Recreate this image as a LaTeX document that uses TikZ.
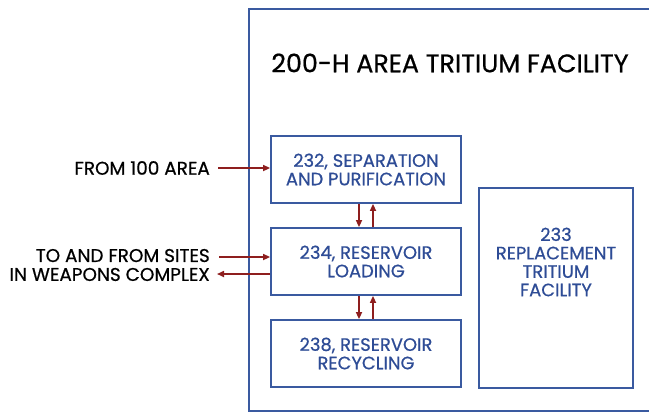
\documentclass[tikz,border=0pt]{standalone}
\usepackage{fontspec}
\setmainfont{Poppins}[FakeBold=0.6]
\usetikzlibrary{arrows.meta}
\definecolor{boxblue}{HTML}{3A5AA0}
\definecolor{txtblue}{HTML}{2E4C96}
\definecolor{arrred}{HTML}{8E1E1E}
\begin{document}
\begin{tikzpicture}[x=1bp,y=-1bp,
  bldg/.style={draw=boxblue,line width=1.8bp,text=txtblue,align=center,font=\fontsize{18}{18.5}\selectfont,inner sep=0pt},
  flow/.style={draw=arrred,line width=1.6bp,-{Triangle[length=7bp,width=6bp]}},
  lbl/.style={align=right,anchor=east,font=\fontsize{18.5}{19}\selectfont,inner sep=0pt}]
\useasboundingbox (0,0) rectangle (649,413);
\clip (0,0) rectangle (649,413);
\fill[white] (0,0) rectangle (649,413);
\draw[boxblue,line width=1.8bp] (249,9) rectangle (660,411);
\node[font=\fontsize{25.5}{28}\selectfont,anchor=center,inner sep=0pt] (title) at (450,63) {200-H AREA TRITIUM FACILITY};
\node[bldg,minimum width=190bp,minimum height=67bp] (b232) at (366,169.5) {232, SEPARATION\\AND PURIFICATION};
\node[bldg,minimum width=190bp,minimum height=67bp] (b234) at (366,261.5) {234, RESERVOIR\\LOADING};
\node[bldg,minimum width=190bp,minimum height=67bp] (b238) at (366,353.5) {238, RESERVOIR\\RECYCLING};
\node[bldg,minimum width=154bp,minimum height=200bp,anchor=north] (b233) at (556,187) {};
\node[text=txtblue,align=center,font=\fontsize{18}{18.5}\selectfont,inner sep=0pt,anchor=center] (t233) at (556,262) {233\\REPLACEMENT\\TRITIUM\\FACILITY};
\node[lbl] (from100) at (210,168) {FROM 100 AREA};
\node[lbl] (sites) at (210,265) {TO AND FROM SITES\\IN WEAPONS COMPLEX};
\coordinate (a1s) at (218,168);
\coordinate (a2s) at (219,257);
\coordinate (a3e) at (217,274);
\draw[flow] (a1s) -- (b232.west |- a1s);
\draw[flow] (a2s) -- (b234.west |- a2s);
\draw[flow] (b234.west |- a3e) -- (a3e);
\draw[flow] ([xshift=-7bp]b232.south) -- ([xshift=-7bp]b234.north);
\draw[flow] ([xshift=7bp]b234.north) -- ([xshift=7bp]b232.south);
\draw[flow] ([xshift=-7bp]b234.south) -- ([xshift=-7bp]b238.north);
\draw[flow] ([xshift=7bp]b238.north) -- ([xshift=7bp]b234.south);
\end{tikzpicture}
\end{document}
